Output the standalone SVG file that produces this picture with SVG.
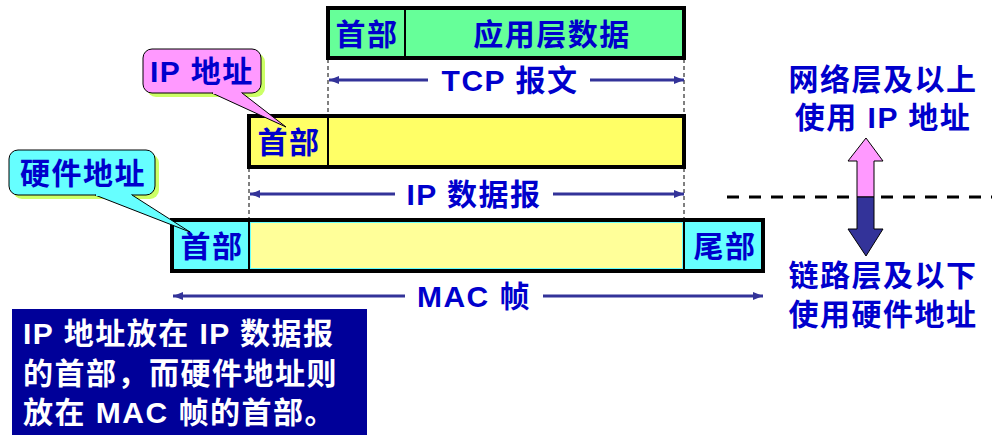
<svg xmlns="http://www.w3.org/2000/svg" width="998" height="448" viewBox="0 0 998 448">
<defs>
<marker id="ah" viewBox="0 0 10 8" refX="10" refY="4" markerWidth="10" markerHeight="8" markerUnits="userSpaceOnUse" orient="auto-start-reverse">
<path d="M0,0 L10,4 L0,8 Z" fill="#333399"/>
</marker>
</defs>
<style>
text{font-family:"Liberation Sans","Noto Sans CJK SC",sans-serif;font-weight:bold;font-size:30px;letter-spacing:1.5px;fill:#0000CC}
.c{text-anchor:middle}
.w{fill:#FFFFFF}
.box{stroke:#000;stroke-width:4}
.div{stroke:#000;stroke-width:2}
.vd{stroke:#000;stroke-width:1;stroke-dasharray:4,3;fill:none}
.ar{stroke:#333399;stroke-width:3;fill:none}
</style>
<rect width="998" height="448" fill="#FFFFFF"/>

<g id="connectors">
<line class="vd" x1="328" y1="59" x2="328" y2="115"/>
<line class="vd" x1="684" y1="59" x2="684" y2="115"/>
<line class="vd" x1="249" y1="168" x2="249" y2="219"/>
<line class="vd" x1="684" y1="168" x2="684" y2="219"/>
<line class="ar" x1="428" y1="80" x2="329" y2="80" marker-end="url(#ah)"/>
<line class="ar" x1="590" y1="80" x2="684" y2="80" marker-end="url(#ah)"/>
<line class="ar" x1="395" y1="194" x2="250" y2="194" marker-end="url(#ah)"/>
<line class="ar" x1="553" y1="194" x2="684" y2="194" marker-end="url(#ah)"/>
<line class="ar" x1="405" y1="296" x2="173" y2="296" marker-end="url(#ah)"/>
<line class="ar" x1="543" y1="296" x2="763" y2="296" marker-end="url(#ah)"/>
<line stroke="#000" stroke-width="3" stroke-dasharray="12,10" x1="727" y1="197" x2="992" y2="197"/>
</g>

<g id="tcp-segment">
<rect class="box" x="328" y="8" width="356" height="50" fill="#66FF99"/>
<line class="div" x1="405" y1="8" x2="405" y2="58"/>
<text class="c" x="367" y="45">首部</text>
<text class="c" x="552" y="45">应用层数据</text>
<text class="c" x="510" y="91">TCP 报文</text>
</g>

<g id="ip-datagram">
<rect class="box" x="249" y="116" width="435" height="51" fill="#FFFF66"/>
<line class="div" x1="328" y1="116" x2="328" y2="167"/>
<text class="c" x="289" y="153">首部</text>
<text class="c" x="474" y="205">IP 数据报</text>
</g>

<g id="mac-frame">
<rect class="box" x="172" y="220" width="591" height="51" fill="#66FFFF"/>
<rect x="251" y="223" width="431" height="45" fill="#FFFF99"/>
<line class="div" x1="249" y1="220" x2="249" y2="271"/>
<line class="div" x1="684" y1="220" x2="684" y2="271"/>
<text class="c" x="212" y="257">首部</text>
<text class="c" x="725" y="257">尾部</text>
<text class="c" x="474" y="307">MAC 帧</text>
</g>

<g id="callout-ip">
<rect x="147" y="53" width="118" height="44" rx="9" fill="#CCFF66"/>
<rect x="143" y="49" width="118" height="44" rx="9" fill="#FF99FF" stroke="#000" stroke-width="1"/>
<path d="M212,93 L286,127 L242,93" fill="#FF99FF" stroke="#000" stroke-width="1"/>
<line x1="213" y1="93" x2="241" y2="93" stroke="#FF99FF" stroke-width="2"/>
<text x="150" y="82">IP 地址</text>
</g>

<g id="callout-hw">
<rect x="13" y="154" width="146" height="45" rx="9" fill="#CCFF66"/>
<rect x="9" y="150" width="146" height="45" rx="9" fill="#66FFFF" stroke="#000" stroke-width="1"/>
<path d="M95,195 L190,232 L132,195" fill="#66FFFF" stroke="#000" stroke-width="1"/>
<line x1="96" y1="195" x2="131" y2="195" stroke="#66FFFF" stroke-width="2"/>
<text x="20" y="184">硬件地址</text>
</g>

<g id="layer-arrow">
<path d="M857,197 L857,161 L848,161 L866,138 L883,161 L874,161 L874,197 Z" fill="#FF99FF" stroke="#000" stroke-width="1"/>
<path d="M857,197 L857,229 L848,229 L866,256 L883,229 L874,229 L874,197 Z" fill="#333399" stroke="#000" stroke-width="1"/>
</g>

<g id="upper-note">
<text class="c" x="883" y="90">网络层及以上</text>
<text class="c" x="883" y="128">使用 IP 地址</text>
</g>

<g id="lower-note">
<text class="c" x="883" y="286">链路层及以下</text>
<text class="c" x="883" y="325">使用硬件地址</text>
</g>

<g id="summary">
<rect x="12" y="309" width="355" height="126" fill="#000099"/>
<text class="w" x="23" y="344">IP 地址放在 IP 数据报</text>
<text class="w" x="23" y="384">的首部，而硬件地址则</text>
<text class="w" x="23" y="423">放在 MAC 帧的首部。</text>
</g>
</svg>
